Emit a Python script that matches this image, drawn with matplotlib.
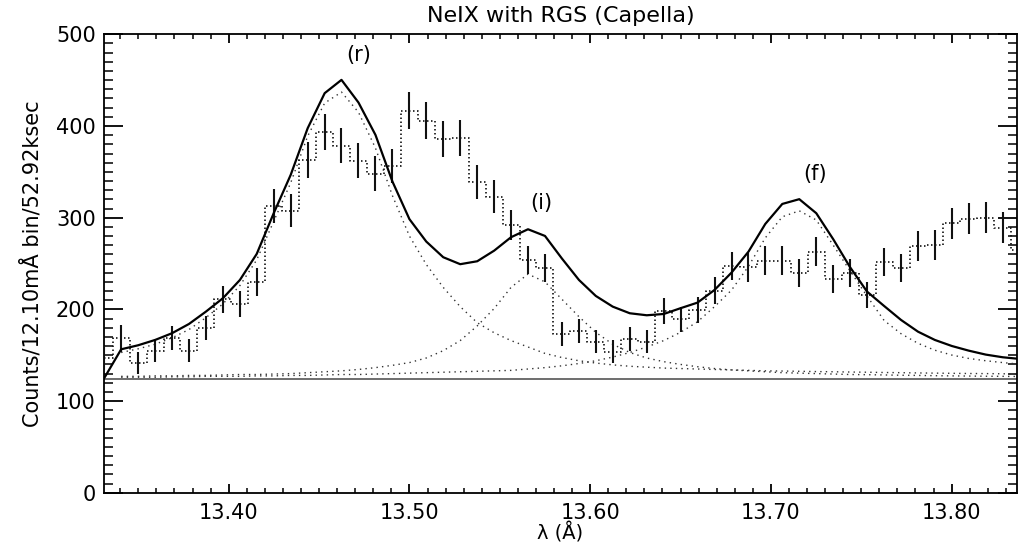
import numpy as np
import matplotlib
matplotlib.use("Agg")
import matplotlib.pyplot as plt
from matplotlib.ticker import MultipleLocator, FormatStrFormatter

# ---- data ----
wavelength = [13.3311, 13.3405, 13.3499, 13.3593, 13.3686, 13.3780, 13.3874, 13.3968,
              13.4062, 13.4155, 13.4249, 13.4343, 13.4437, 13.4531, 13.4624, 13.4718,
              13.4812, 13.4906, 13.5000, 13.5093, 13.5187, 13.5281, 13.5375, 13.5469,
              13.5562, 13.5656, 13.5750, 13.5844, 13.5938, 13.6031, 13.6125, 13.6219,
              13.6313, 13.6407, 13.6500, 13.6594, 13.6688, 13.6782, 13.6876, 13.6969,
              13.7063, 13.7157, 13.7251, 13.7345, 13.7438, 13.7532, 13.7626, 13.7720,
              13.7814, 13.7907, 13.8001, 13.8095, 13.8189, 13.8283, 13.8376]

counts = [147, 168.5, 141.3, 154.7, 168.5, 154.7, 179.4, 211.1, 206, 230, 312.9, 307.7,
          363, 393.3, 378.3, 362.3, 347.8, 356.5, 416.8, 405.9, 386, 387, 339, 323,
          292.1, 254, 245.2, 173.2, 176.5, 164.8, 153.9, 167.8, 164.8, 198.7, 189.3,
          199.4, 220.5, 247.4, 246, 253.2, 253.2, 239.4, 263, 233.2, 240.1, 215.4,
          251.4, 245.2, 269.2, 270, 294, 299, 300.1, 289.2, 265]

errors = [13, 14.5, 11.8, 12.5, 13, 12.5, 13, 14.5, 14.2, 15, 18.2, 17.6, 19.5, 19.5,
          19, 18.7, 19, 18.9, 20.2, 20, 19.5, 19.3, 18.2, 17.8, 16.4, 14.9, 15.3, 13.1,
          13.3, 12.7, 12.4, 12.9, 12.7, 14.2, 13.6, 14.2, 14.4, 15.3, 15.8, 15.8, 15.8,
          15.3, 15.6, 14.9, 15.3, 14.2, 15.5, 15.1, 16.2, 16.4, 16.7, 16.7, 16.9, 16.9, 16]

model_total = [125, 156.5, 160.9, 166.7, 174, 184.1, 197.6, 212.2, 232.1, 260.5, 304.9,
               346.7, 397.6, 435.8, 450.3, 425.6, 390.3, 339.4, 298.4, 274, 256.9, 249.3,
               252.5, 264.1, 278.7, 287.4, 280.1, 255.4, 232.1, 214.7, 203, 195.8, 193.6,
               195, 201.3, 207.4, 221.2, 240.1, 263, 293.2, 315, 320.2, 304.9, 276.5, 246,
               219.4, 203.8, 188.5, 175.7, 166.7, 160.1, 155, 150.7, 147.8, 146]

# line components (start at the second wavelength bin)
comp_r = [153, 157, 162, 169, 178, 191, 206, 226, 254, 296, 338, 389, 425, 437, 415, 376,
          324, 280, 249, 224, 203, 185.5, 174.5, 166, 159, 152, 147.5, 144, 141.5, 139.5,
          138, 137, 136, 135.5, 135, 134.5, 134, 133.5, 133, 132.8, 132.5, 132.2, 132,
          131.7, 131.5, 131.2, 131, 130.7, 130.5, 130.3, 130.1, 130, 129.8, 129.6]
comp_i = [127, 127, 127.5, 127.5, 128, 128, 128.5, 129, 129, 129.5, 130, 131, 132, 133,
          134.5, 136.5, 139, 142, 147, 155, 166, 182, 201, 224, 238.5, 230, 211, 192, 175,
          162, 153, 147, 143, 140, 137.5, 135.5, 134, 133, 132, 131, 130.5, 130, 129.5,
          129, 128.8, 128.5, 128.2, 128, 127.7, 127.5, 127.3, 127.1, 127, 126.8]
comp_f = [126, 126, 126, 126.5, 126.5, 127, 127, 127, 127.5, 127.5, 128, 128, 128.5, 129,
          129, 129.5, 130, 130.5, 131, 131.5, 132, 132.5, 133, 133.5, 135, 136.5, 138.5,
          141, 144, 148, 153, 159, 166, 175, 186.5, 203, 221, 247, 278, 301, 307.5, 297.5,
          270, 242, 214.5, 188, 173.5, 163, 155.5, 150.2, 146.5, 144, 142, 140.3]
continuum = 124

line_labels = ["(r)", "(i)", "(f)"]
line_label_x = [13.4718, 13.5732, 13.7244]
line_label_y = [477, 316, 348]

title = "NeIX with RGS (Capella)"
xlabel = "\u03bb (\u00c5)"
ylabel = "Counts/12.10m\u00c5 bin/52.92ksec"

# ---- style ----
plt.rcParams.update({
    "xtick.direction": "in", "ytick.direction": "in",
    "xtick.top": True, "ytick.right": True,
    "xtick.minor.visible": True, "ytick.minor.visible": True,
    "xtick.major.size": 6.7, "xtick.minor.size": 3.5,
    "ytick.major.size": 13.5, "ytick.minor.size": 6.5,
    "xtick.major.width": 1.3, "xtick.minor.width": 1.1,
    "ytick.major.width": 1.3, "ytick.minor.width": 1.1,
    "xtick.major.pad": 7, "ytick.major.pad": 6,
    "xtick.labelsize": 15, "ytick.labelsize": 15,
    "axes.linewidth": 1.3,
})

# ---- figure ----
fig = plt.figure(figsize=(10.24, 5.47), dpi=100)
ax = fig.add_axes([104 / 1024, 1 - 492.8 / 547, (1016.7 - 104) / 1024, (492.8 - 34.3) / 547])

# continuum
ax.axhline(continuum, color="#555555", lw=1.2, zorder=1)

# components
wl_c = wavelength[1:]
for comp in (comp_r, comp_i, comp_f):
    ax.plot(wl_c, comp, color="#333333", lw=1.0, ls=(0, (1, 3)), zorder=2)

# data histogram (dotted steps)
ax.plot(wavelength, counts, drawstyle="steps-mid", color="#111111", lw=1.2,
        ls=(0, (0.9, 1.5)), zorder=3)
# error bars
ax.errorbar(wavelength, counts, yerr=errors, fmt="none", ecolor="#111111",
            elinewidth=1.5, capsize=0, zorder=4)

# total model
ax.plot(wavelength, model_total, color="black", lw=1.6, zorder=5)

for lab, lx, ly in zip(line_labels, line_label_x, line_label_y):
    ax.text(lx, ly, lab, ha="center", va="center", fontsize=15)

ax.set_xlim(13.331, 13.836)
ax.set_ylim(0, 500)

# ---- ticks ----
ax.xaxis.set_major_locator(MultipleLocator(0.1))
ax.xaxis.set_minor_locator(MultipleLocator(0.01))
ax.xaxis.set_major_formatter(FormatStrFormatter("%.2f"))
ax.yaxis.set_major_locator(MultipleLocator(100))
ax.yaxis.set_minor_locator(MultipleLocator(10))

ax.set_title(title, fontsize=16, pad=9)
ax.set_xlabel(xlabel, fontsize=14, labelpad=0)
ax.set_ylabel(ylabel, fontsize=15, labelpad=10)

fig.savefig("out.png", dpi=100)
